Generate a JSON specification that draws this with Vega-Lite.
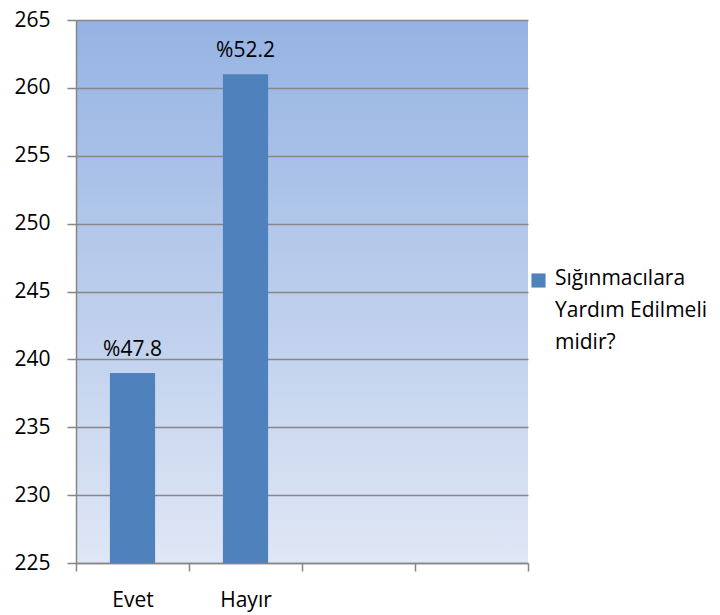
{
  "$schema": "https://vega.github.io/schema/vega-lite/v6.json",
  "width": 452,
  "height": 543,
  "autosize": "none",
  "padding": {"left": 76, "top": 20, "right": 192, "bottom": 52},
  "background": "white",
  "config": {
    "font": "Open Sans",
    "view": {
      "stroke": null,
      "fill": {
        "gradient": "linear",
        "x1": 0, "y1": 0, "x2": 0, "y2": 1,
        "stops": [
          {"offset": 0, "color": "#95b3e3"},
          {"offset": 1, "color": "#e0e7f5"}
        ]
      }
    }
  },
  "data": {
    "values": [
      {"cevap": "Evet", "sayi": 239, "oran": "%47.8", "seri": "Sığınmacılara Yardım Edilmeli midir?"},
      {"cevap": "Hayır", "sayi": 261, "oran": "%52.2", "seri": "Sığınmacılara Yardım Edilmeli midir?"}
    ]
  },
  "encoding": {
    "x": {
      "field": "cevap",
      "type": "nominal",
      "sort": null,
      "scale": {"domain": ["Evet", "Hayır", "k3", "k4"], "paddingInner": 0, "paddingOuter": 0},
      "axis": {
        "title": null,
        "grid": false,
        "tickBand": "extent",
        "labelAngle": 0,
        "labelExpr": "datum.value == 'Evet' || datum.value == 'Hayır' ? datum.value : ''",
        "labelFontSize": 21,
        "labelColor": "#000000",
        "labelPadding": 18,
        "tickSize": 8,
        "tickWidth": 1.5,
        "tickColor": "#868686",
        "domainColor": "#868686",
        "domainWidth": 1.5
      }
    },
    "y": {
      "field": "sayi",
      "type": "quantitative",
      "scale": {"domain": [225, 265], "zero": false, "nice": false},
      "axis": {
        "title": null,
        "values": [225, 230, 235, 240, 245, 250, 255, 260, 265],
        "grid": true,
        "gridColor": "#878787",
        "gridWidth": 1.5,
        "labelFontSize": 21,
        "labelColor": "#000000",
        "labelPadding": 17,
        "tickSize": 9,
        "tickWidth": 1.5,
        "tickColor": "#868686",
        "domainColor": "#868686",
        "domainWidth": 1.5
      }
    }
  },
  "layer": [
    {
      "mark": {"type": "bar", "width": {"band": 0.4}, "clip": true},
      "encoding": {
        "color": {
          "field": "seri",
          "type": "nominal",
          "scale": {"range": ["#4f81bd"]},
          "legend": {
            "orient": "none",
            "legendX": 452,
            "legendY": 250,
            "title": null,
            "padding": 0,
            "symbolType": "square",
            "symbolSize": 200,
            "symbolStrokeWidth": 0,
            "labelFontSize": 21,
            "labelColor": "#000000",
            "labelLimit": 0,
            "labelOffset": 6,
            "labelBaseline": "top",
            "labelExpr": "['Sığınmacılara', 'Yardım Edilmeli', 'midir?']",
            "encode": {
              "labels": {"update": {"lineHeight": {"value": 32}, "dy": {"value": -13}}}
            }
          }
        }
      }
    },
    {
      "mark": {"type": "text", "fontSize": 21, "baseline": "alphabetic", "dy": -17, "color": "#000000"},
      "encoding": {"text": {"field": "oran"}}
    }
  ]
}
